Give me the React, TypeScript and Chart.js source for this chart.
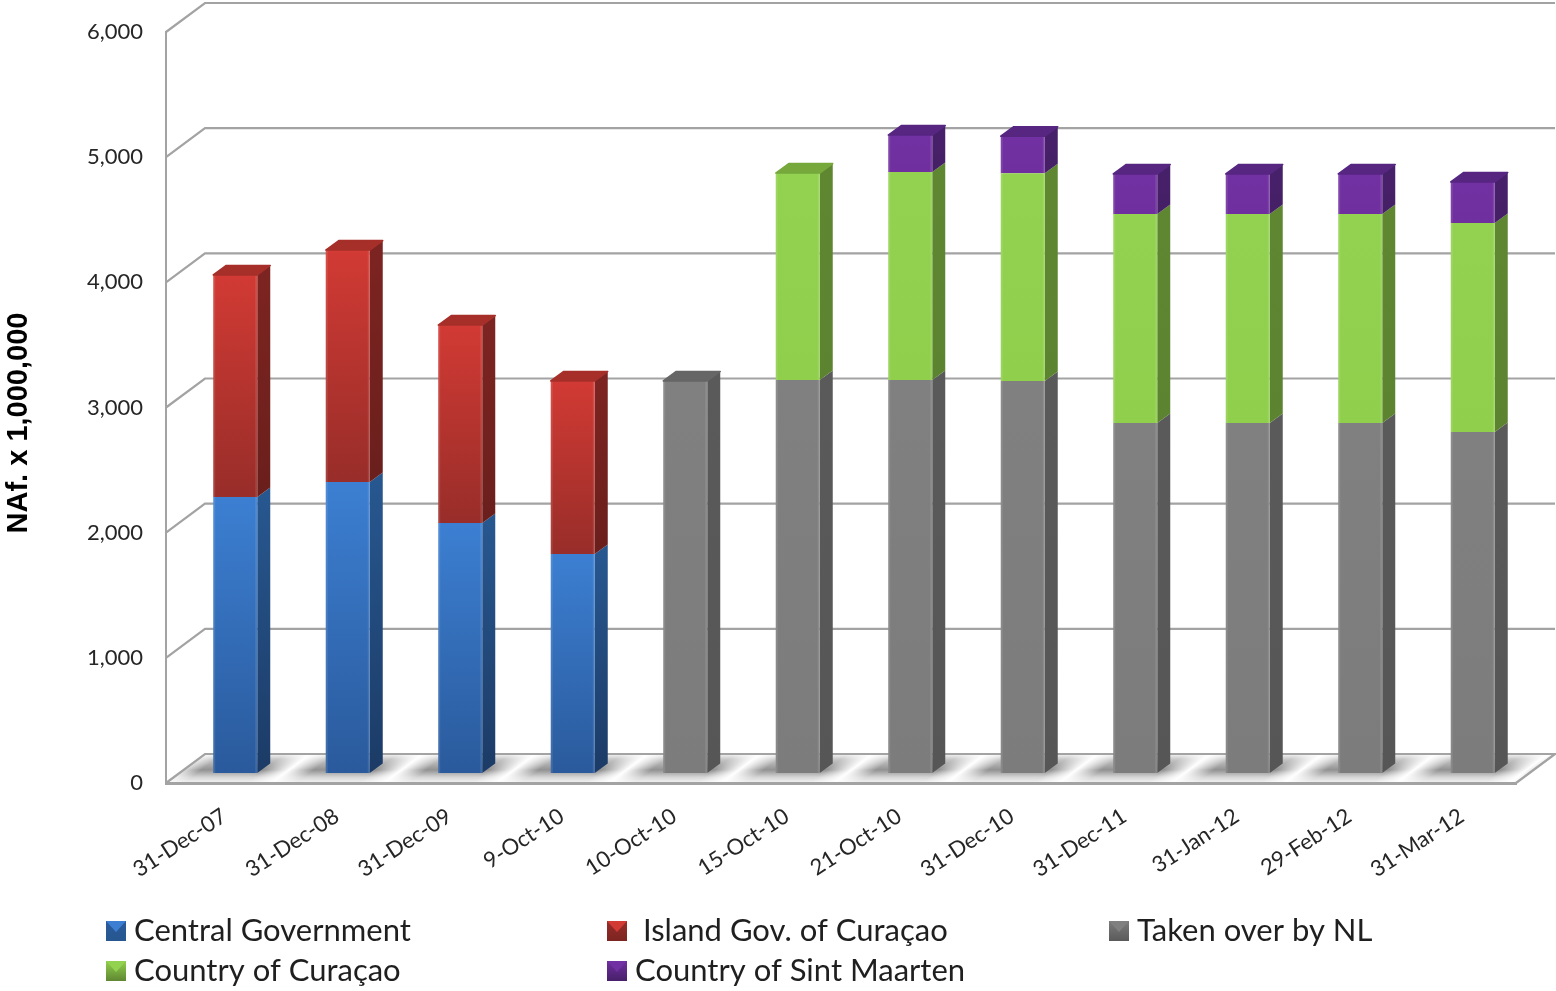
import React, { useEffect, useRef } from "react";
import { Chart, registerables } from "chart.js";

Chart.register(...registerables);

const categories = ["31-Dec-07","31-Dec-08","31-Dec-09","9-Oct-10","10-Oct-10","15-Oct-10","21-Oct-10","31-Dec-10","31-Dec-11","31-Jan-12","29-Feb-12","31-Mar-12"];
const centralGovernment = [2205,2325,1997,1750,null,null,null,null,null,null,null,null];
const islandGovCuracao = [1774,1853,1582,1382,null,null,null,null,null,null,null,null];
const takenOverByNL = [null,null,null,null,3132,3140,3140,3132,2796,2796,2796,2724];
const countryCuracao = [null,null,null,null,null,1653,1661,1660,1670,1670,1670,1670];
const countrySintMaarten = [null,null,null,null,null,null,296,296,320,320,320,328];
const axisTitle = "NAf. x 1,000,000";

const FONT = "Lato, 'Open Sans', sans-serif";
const series = [
  { label: "Central Government", data: centralGovernment, light: "#3c7fd2", dark: "#2a5a9c", sideTop: "#27578f", sideBottom: "#1c3b66", top: "#2c5f9f" },
  { label: " Island Gov. of Curaçao", data: islandGovCuracao, light: "#d23a34", dark: "#982d29", sideTop: "#7c2421", sideBottom: "#6a1f1c", top: "#a62f2a" },
  { label: "Taken over by NL", data: takenOverByNL, light: "#808080", dark: "#7c7c7c", sideTop: "#5a5a5a", sideBottom: "#565656", top: "#666666" },
  { label: "Country of Curaçao", data: countryCuracao, light: "#93d251", dark: "#90cf4c", sideTop: "#5f8732", sideBottom: "#5c8330", top: "#76a83c" },
  { label: "Country of Sint Maarten", data: countrySintMaarten, light: "#7231a2", dark: "#6f2f9e", sideTop: "#47206a", sideBottom: "#452065", top: "#562681" },
];
const legendSlots = [[106, 931], [607, 931], [1109, 931], [106, 971], [607, 971]];

const DX = 13, DY = -10;      // front face of the bars relative to the front plane
const SX = 13, SY = -9.5;     // depth of a bar
const WX = 39, WY = -29;      // depth of the whole box
const LINE = "#a3a3a3";

const chart3d = {
  id: "chart3d",
  beforeDraw(chart: any) {
    const { ctx, chartArea: a, scales: { x, y } } = chart;
    ctx.save();
    // floor
    ctx.beginPath();
    ctx.moveTo(a.left, a.bottom);
    ctx.lineTo(a.left + WX, a.bottom + WY);
    ctx.lineTo(a.right + WX, a.bottom + WY);
    ctx.lineTo(a.right, a.bottom);
    ctx.closePath();
    ctx.save();
    ctx.clip();
    const g = ctx.createLinearGradient(0, a.bottom + WY, 0, a.bottom);
    g.addColorStop(0, "#f4f4f4");
    g.addColorStop(0.2, "#c4c4c4");
    g.addColorStop(0.55, "#929292");
    g.addColorStop(0.8, "#d6d6d6");
    g.addColorStop(1, "#f4f4f4");
    ctx.fillStyle = g;
    ctx.fillRect(a.left, a.bottom + WY, a.width + WX, -WY);
    const step = x.getPixelForValue(1) - x.getPixelForValue(0);
    const n = [0.6, 0.8];
    for (let i = -1; i < categories.length; i++) {
      const px = x.getPixelForValue(0) + DX + step * (i + 0.5);
      const py = a.bottom - 15;
      const w = 15;
      const s = ctx.createLinearGradient(px - n[0] * w, py - n[1] * w, px + n[0] * w, py + n[1] * w);
      s.addColorStop(0, "rgba(255,255,255,0)");
      s.addColorStop(0.5, "rgba(255,255,255,1)");
      s.addColorStop(1, "rgba(255,255,255,0)");
      ctx.fillStyle = s;
      ctx.fillRect(a.left, a.bottom + WY, a.width + WX, -WY);
    }
    ctx.restore();
    // walls
    ctx.strokeStyle = LINE;
    ctx.lineWidth = 2.2;
    for (const t of y.ticks) {
      const py = y.getPixelForValue(t.value);
      ctx.beginPath();
      ctx.moveTo(a.left, py);
      ctx.lineTo(a.left + WX, py + WY);
      ctx.lineTo(a.right + WX, py + WY);
      if (t.value === 0) ctx.lineTo(a.right, py);
      ctx.stroke();
    }
    ctx.restore();
  },
  beforeDatasetsDraw(chart: any) {
    const { ctx } = chart;
    ctx.save();
    ctx.translate(DX, DY);
    chart.data.datasets.forEach((_: any, di: number) => {
      const s = series[di];
      chart.getDatasetMeta(di).data.forEach((el: any, i: number) => {
        if (s.data[i] == null) return;
        const { x, y, base, width } = el.getProps(["x", "y", "base", "width"], true);
        const r = x + width / 2;
        const g = ctx.createLinearGradient(0, y, 0, base);
        g.addColorStop(0, s.sideTop);
        g.addColorStop(1, s.sideBottom);
        ctx.fillStyle = g;
        ctx.beginPath();
        ctx.moveTo(r, y);
        ctx.lineTo(r + SX, y + SY);
        ctx.lineTo(r + SX, base + SY);
        ctx.lineTo(r, base);
        ctx.closePath();
        ctx.fill();
      });
    });
  },
  afterDatasetsDraw(chart: any) {
    const { ctx } = chart;
    // soft highlight along the vertical edges of each front face
    ctx.fillStyle = "rgba(255,255,255,0.10)";
    chart.data.datasets.forEach((_: any, di: number) => {
      chart.getDatasetMeta(di).data.forEach((el: any, i: number) => {
        if (series[di].data[i] == null) return;
        const { x, y, base, width } = el.getProps(["x", "y", "base", "width"], true);
        ctx.fillRect(x - width / 2, y, 2, base - y);
        ctx.fillRect(x + width / 2 - 2, y, 2, base - y);
      });
    });
    categories.forEach((_, i) => {
      let di = series.length - 1;
      while (di >= 0 && series[di].data[i] == null) di--;
      if (di < 0) return;
      const el = chart.getDatasetMeta(di).data[i];
      const { x, y, width } = el.getProps(["x", "y", "width"], true);
      const l = x - width / 2, r = x + width / 2;
      ctx.fillStyle = series[di].top;
      ctx.strokeStyle = series[di].top;
      ctx.lineWidth = 1.5;
      ctx.lineJoin = "round";
      ctx.beginPath();
      ctx.moveTo(l, y);
      ctx.lineTo(l + SX, y + SY);
      ctx.lineTo(r + SX, y + SY);
      ctx.lineTo(r, y);
      ctx.closePath();
      ctx.fill();
      ctx.stroke();
    });
    ctx.restore();
  },
  afterDraw(chart: any) {
    const { ctx } = chart;
    ctx.save();
    // axis title
    ctx.translate(19, 423);
    ctx.rotate(-Math.PI / 2);
    ctx.font = "bold 29px 'Liberation Sans', sans-serif";
    ctx.fillStyle = "#000000";
    ctx.textAlign = "center";
    ctx.textBaseline = "middle";
    ctx.fillText(axisTitle, 0, 0);
    ctx.restore();
    // legend
    ctx.save();
    ctx.font = `31px ${FONT}`;
    ctx.textBaseline = "middle";
    ctx.textAlign = "left";
    chart.data.datasets.forEach((d: any, i: number) => {
      const [lx, ly] = legendSlots[i];
      const s = series[i];
      const box = 20;
      const top = ly - box / 2;
      const g = ctx.createLinearGradient(0, top, 0, top + box);
      g.addColorStop(0, s.dark);
      g.addColorStop(1, s.sideTop);
      ctx.fillStyle = g;
      ctx.fillRect(lx, top, box, box);
      ctx.fillStyle = s.light;
      ctx.beginPath();
      ctx.moveTo(lx, top);
      ctx.lineTo(lx + box, top);
      ctx.lineTo(lx + box / 2, top + box * 0.55);
      ctx.closePath();
      ctx.fill();
      ctx.fillStyle = "#1f1f1f";
      ctx.fillText(d.label, lx + 28, ly);
    });
    ctx.restore();
  },
};

export default function App() {
  const ref = useRef<HTMLCanvasElement>(null);
  useEffect(() => {
    document.body.style.margin = "0";
    const chart = new Chart(ref.current as HTMLCanvasElement, {
      type: "bar",
      data: {
        labels: categories,
        datasets: series.map((s, di) => ({
          label: s.label,
          data: s.data,
          clip: false,
          barPercentage: 44 / 112.5,
          categoryPercentage: 1,
          borderWidth: 0,
          backgroundColor: (c: any) => {
            const sc = c.chart.scales.y;
            const i = c.dataIndex;
            if (!sc || i == null) return s.light;
            let base = 0;
            for (let k = 0; k < di; k++) base += series[k].data[i] || 0;
            const top = base + (s.data[i] || 0);
            const y0 = sc.getPixelForValue(top);
            const y1 = sc.getPixelForValue(base);
            if (!Number.isFinite(y0) || !Number.isFinite(y1)) return s.light;
            const g = c.chart.ctx.createLinearGradient(0, y0, 0, y1);
            g.addColorStop(0, s.light);
            g.addColorStop(1, s.dark);
            return g;
          },
        })) as any,
      },
      options: {
        responsive: false,
        animation: false,
        layout: { padding: { top: 32, right: 40, left: 0, bottom: 0 } },
        plugins: { legend: { display: false }, tooltip: { enabled: false } },
        scales: {
          x: {
            stacked: true,
            grid: { display: false },
            border: { display: true, color: LINE, width: 3 },
            afterFit: (s: any) => { s.height = 208; },
            ticks: {
              autoSkip: false,
              minRotation: 33,
              maxRotation: 33,
              padding: 12,
              labelOffset: 2,
              color: "#262626",
              font: { family: FONT, size: 22 },
            },
          },
          y: {
            stacked: true,
            min: 0,
            max: 6000,
            grid: { display: false },
            border: { display: true, color: LINE, width: 2 },
            afterFit: (s: any) => { s.width = 166; },
            ticks: {
              stepSize: 1000,
              padding: 15,
              color: "#262626",
              font: { family: FONT, size: 22 },
            },
          },
        },
      },
      plugins: [chart3d],
    } as any);
    return () => chart.destroy();
  }, []);
  return <canvas ref={ref} width={1556} height={991} style={{ display: "block" }} />;
}
